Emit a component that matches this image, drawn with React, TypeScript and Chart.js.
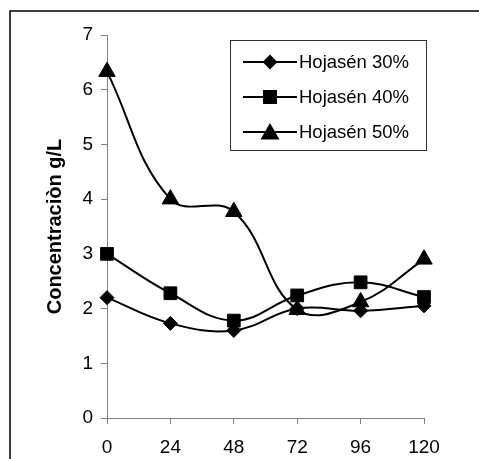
import React, { useEffect, useRef } from 'react';
import { Chart, registerables } from 'chart.js';
import { drawPoint } from 'chart.js/helpers';

Chart.register(...registerables);

const hours = ['0', '24', '48', '72', '96', '120'];
const s30 = [2.2, 1.73, 1.6, 2.0, 1.96, 2.05];
const s40 = [3.0, 2.28, 1.78, 2.24, 2.48, 2.21];
const s50 = [6.33, 4.0, 3.77, 1.98, 2.12, 2.9];
const seriesNames = ['Hojasén 30%', 'Hojasén 40%', 'Hojasén 50%'];
const pointStyles = ['rectRot', 'rect', 'triangle'];
const yTitle = 'Concentraciòn g/L';
const yMin = 0;
const yMax = 7;

const FONT = "'Liberation Sans', Arial, sans-serif";

const framePlugin = {
  id: 'frame',
  afterDraw(chart: any) {
    const ctx = chart.ctx;
    ctx.save();
    ctx.strokeStyle = '#000';
    ctx.lineWidth = 1.5;
    ctx.beginPath();
    ctx.moveTo(10, 470);
    ctx.lineTo(10, 11);
    ctx.lineTo(490, 11);
    ctx.stroke();
    ctx.restore();
  },
};

const legendPlugin = {
  id: 'innerLegend',
  afterDraw(chart: any) {
    const ctx = chart.ctx;
    ctx.save();
    const bx = 230, by = 40, bw = 196, bh = 110;
    ctx.fillStyle = '#fff';
    ctx.fillRect(bx, by, bw, bh);
    ctx.strokeStyle = '#333';
    ctx.lineWidth = 1;
    ctx.strokeRect(bx + 0.5, by + 0.5, bw, bh);
    const rows = [62, 97, 132];
    const radii = [6, 8.5, 9];
    chart.data.datasets.forEach((ds: any, i: number) => {
      const y = rows[i];
      ctx.strokeStyle = '#000';
      ctx.lineWidth = 2;
      ctx.beginPath();
      ctx.moveTo(243, y);
      ctx.lineTo(297, y);
      ctx.stroke();
      ctx.fillStyle = '#000';
      drawPoint(ctx, { pointStyle: ds.pointStyle, radius: radii[i], rotation: 0, borderWidth: 1 } as any, 270, y + (ds.pointStyle === 'triangle' ? 2 : 0));
      ctx.fill();
      ctx.fillStyle = '#000';
      ctx.font = `18.5px ${FONT}`;
      ctx.textAlign = 'left';
      ctx.textBaseline = 'middle';
      ctx.fillText(ds.label, 299, y + 1);
    });
    ctx.restore();
  },
};

export default function App() {
  const canvasRef = useRef<HTMLCanvasElement | null>(null);

  useEffect(() => {
    const canvas = canvasRef.current;
    if (!canvas) return;
    const mk = (label: string, data: number[], style: string, r: number) => ({
      label,
      data,
      borderColor: '#000',
      backgroundColor: '#000',
      borderWidth: 2,
      pointStyle: style,
      pointRadius: r,
      pointBackgroundColor: '#000',
      pointBorderColor: '#000',
      pointBorderWidth: 1,
      tension: 0.4,
      fill: false,
    });
    const chart = new Chart(canvas, {
      type: 'line',
      data: {
        labels: hours,
        datasets: [
          mk(seriesNames[0], s30, pointStyles[0], 7),
          mk(seriesNames[1], s40, pointStyles[1], 9),
          mk(seriesNames[2], s50, pointStyles[2], 9.5),
        ],
      },
      options: {
        animation: false,
        responsive: true,
        maintainAspectRatio: false,
        layout: { padding: { left: 0, right: 55, top: 35, bottom: 0 } },
        plugins: {
          legend: { display: false },
          tooltip: { enabled: false },
          title: { display: false },
        },
        scales: {
          x: {
            type: 'category',
            offset: false,
            grid: { drawOnChartArea: false, drawTicks: true, tickLength: 6, color: '#808080' },
            border: { color: '#808080', width: 1 },
            ticks: {
              color: '#000',
              font: { family: FONT, size: 19 },
              padding: 12,
              maxRotation: 0,
              autoSkip: false,
            },
            afterFit: (scale: any) => {
              scale.height = 41;
            },
          },
          y: {
            min: yMin,
            max: yMax,
            grid: { drawOnChartArea: false, drawTicks: true, tickLength: 6, color: '#808080' },
            border: { color: '#808080', width: 1 },
            ticks: {
              stepSize: 1,
              color: '#000',
              font: { family: FONT, size: 19 },
              padding: 8,
            },
            title: {
              display: true,
              text: yTitle,
              color: '#000',
              font: { family: FONT, size: 20, weight: 'bold' },
              padding: { top: 43, bottom: 0 },
            },
            afterFit: (scale: any) => {
              scale.width = 107;
            },
          },
        },
      },
      plugins: [legendPlugin, framePlugin],
    } as any);
    return () => chart.destroy();
  }, []);

  return (
    <div style={{ position: 'absolute', left: 0, top: 0, width: 479, height: 459, background: '#fff' }}>
      <canvas ref={canvasRef} />
    </div>
  );
}
